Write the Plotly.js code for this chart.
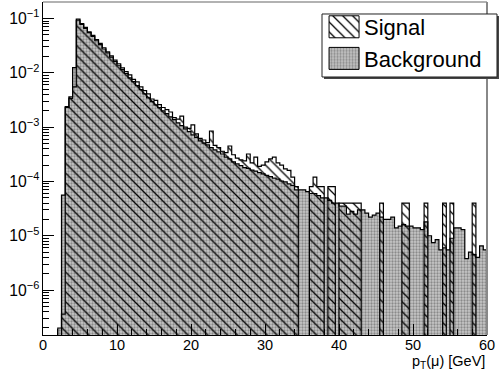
<!DOCTYPE html>
<html>
<head>
<meta charset="utf-8">
<script src="https://cdn.plot.ly/plotly-3.0.1.min.js"></script>
<style>html,body{margin:0;padding:0;background:#fff;}#chart{width:503px;height:378px;}</style>
</head>
<body>
<div id="chart"></div>
<script>
// Histogram binning (GeV)
const binStart = 0;
const binWidth = 0.5;

// Background histogram contents (normalised), one value per 0.5 GeV bin from 0 to 60 GeV
const background = [
  0, 0, 0, 0, 2e-7, 5.6e-5, 2.3e-3, 3.4e-3, 1.25e-2, 0.093,
  0.078, 0.066, 0.055, 0.047, 0.039, 0.033, 0.0275, 0.0234, 0.0195, 0.0162,
  0.0138, 0.0115, 0.0098, 0.0081, 0.0069, 0.0058, 0.0049, 0.0041, 0.00347, 0.00295,
  0.00257, 0.00229, 0.0020, 0.00178, 0.00155, 0.00138, 0.0012, 0.00107, 0.00093, 0.00083,
  0.00072, 0.00065, 0.00056, 0.00051, 0.00047, 0.00042, 0.00038, 0.00035, 0.00032, 0.00028,
  0.00026, 0.00023, 0.00021, 0.000195, 0.00018, 0.000174, 0.000162, 0.000155, 0.000145, 0.000138,
  0.000129, 0.000123, 0.000115, 0.00011, 0.000102, 9.8e-5, 9e-5, 8.5e-5, 7e-5, 7e-5,
  7e-5, 6.5e-5, 6e-5, 6e-5, 5.5e-5, 5e-5, 5e-5, 4.5e-5, 4e-5, 4e-5,
  3.5e-5, 3.5e-5, 2.5e-5, 2.8e-5, 2.5e-5, 3e-5, 3e-5, 2.6e-5, 2.2e-5, 2.4e-5,
  2.6e-5, 2.2e-5, 2.0e-5, 2.0e-5, 2.2e-5, 1.4e-5, 1.5e-5, 1.6e-5, 1.5e-5, 1.5e-5,
  1.4e-5, 1.4e-5, 1.3e-5, 1.8e-5, 1.0e-5, 7.5e-6, 8.5e-6, 5.5e-6, 6e-6, 5.5e-6,
  9e-6, 1.4e-5, 1.4e-5, 1.3e-5, 3.8e-6, 5e-6, 4.5e-6, 4e-6, 6.5e-6, 5.5e-6
];

// Signal histogram contents (normalised)
const signal = [
  0, 0, 0, 0, 0, 3.6e-7, 2.4e-3, 3.6e-3, 5.5e-3, 0.098,
  0.081, 0.069, 0.057, 0.049, 0.041, 0.035, 0.029, 0.0245, 0.0206, 0.0172,
  0.0147, 0.0124, 0.0106, 0.0092, 0.0076, 0.0068, 0.0055, 0.0047, 0.0041, 0.0033,
  0.0031, 0.0026, 0.0023, 0.0021, 0.0019, 0.0015, 0.0014, 0.0016, 0.0010, 0.00095,
  0.0011, 0.00075, 0.00062, 0.00058, 0.00052, 0.00085, 0.00046, 0.00042, 0.00036, 0.00034,
  0.00045, 0.00031, 0.00027, 0.00025, 0.00024, 0.00032, 0.00022, 0.00028, 0.00019, 0.0002,
  0.00023, 0.00026, 0.00028, 0.00022, 0.0002, 1.7e-4, 1.6e-4, 1.2e-4, 8e-5, 0,
  0, 0, 8e-5, 1.2e-4, 8e-5, 8e-5, 0, 8e-5, 8e-5, 0,
  4e-5, 4e-5, 4e-5, 4e-5, 4e-5, 4e-5, 0, 0, 0, 0,
  0, 4e-5, 0, 0, 0, 0, 0, 4e-5, 4e-5, 0,
  0, 0, 0, 4e-5, 0, 0, 0, 0, 4e-5, 0,
  4e-5, 0, 0, 0, 0, 0, 4e-5, 0, 0, 0
];

const xTickVals = [0, 10, 20, 30, 40, 50, 60];
const xTitle = 'p<sub>T</sub>(\u03bc) [GeV]';

// step outline: left bin edges plus final right edge
function stepX(vals) {
  const xs = vals.map((_, i) => binStart + i * binWidth);
  xs.push(binStart + vals.length * binWidth);
  return xs;
}
const FLOOR = 1e-12; // empty bins drop below the axis (clipped)
function stepY(vals) {
  const ys = vals.map(v => (v > 0 ? v : FLOOR));
  ys.push(ys[ys.length - 1]);
  return ys;
}

const font = 'Liberation Sans, Arial, Helvetica, sans-serif';

const traces = [
  {
    type: 'scatter', mode: 'lines', name: 'Background',
    x: stepX(background), y: stepY(background),
    line: {shape: 'hv', color: 'black', width: 1.2},
    fill: 'tozeroy', fillcolor: '#c2c2c2',
    fillpattern: {shape: '.', fgcolor: '#8a8a8a', bgcolor: '#c8c8c8', size: 3, solidity: 0.45},
    hoverinfo: 'skip'
  },
  {
    type: 'scatter', mode: 'lines', name: 'Signal',
    x: stepX(signal), y: stepY(signal),
    line: {shape: 'hv', color: 'black', width: 1.2},
    fill: 'tozeroy', fillcolor: 'rgba(0,0,0,0)',
    fillpattern: {shape: '\\', fgcolor: 'black', bgcolor: 'rgba(0,0,0,0)', size: 7, solidity: 0.18},
    hoverinfo: 'skip'
  }
];

const layout = {
  width: 503, height: 378,
  margin: {l: 43, r: 16, t: 2, b: 43, pad: 0},
  paper_bgcolor: 'white', plot_bgcolor: 'white',
  font: {family: font, color: 'black'},
  showlegend: true,
  legend: {
    x: 0.633, y: 0.988, xanchor: 'left', yanchor: 'top',
    bgcolor: 'rgba(0,0,0,0)', borderwidth: 0,
    font: {family: font, size: 22, color: 'black'},
    traceorder: 'reversed'
  },
  xaxis: {
    range: [0, 60], showgrid: false, zeroline: false,
    showline: true, linecolor: 'black', linewidth: 1.2,
    ticks: 'inside', ticklen: 11, tickcolor: 'black', tickwidth: 1,
    tickvals: xTickVals, ticktext: xTickVals.map(String),
    ticklabelstandoff: -4,
    tickfont: {family: font, size: 14.5, color: 'black'},
    minor: {dtick: 2, ticks: 'inside', ticklen: 6, tickcolor: 'black', tickwidth: 1, showgrid: false}
  },
  yaxis: {
    type: 'log', range: [-6.828, -0.695], showgrid: false, zeroline: false,
    showline: true, linecolor: 'black', linewidth: 1.2,
    ticks: 'inside', ticklen: 11, tickcolor: 'black', tickwidth: 1,
    dtick: 1, exponentformat: 'power',
    tickfont: {family: font, size: 12.6, color: 'black'},
    minor: {dtick: 'D1', ticks: 'inside', ticklen: 6, tickcolor: 'black', tickwidth: 1, showgrid: false}
  },
  shapes: [
    {type: 'line', xref: 'paper', yref: 'paper', x0: 0, x1: 1, y0: 1, y1: 1, line: {color: '#666', width: 1.2}, layer: 'above'},
    {type: 'line', xref: 'paper', yref: 'paper', x0: 1, x1: 1, y0: 0, y1: 1, line: {color: '#888', width: 2}, layer: 'above'},
    // legend box shadow and frame
    {type: 'rect', xref: 'paper', yref: 'paper', x0: 0.6329, x1: 1.0270, y0: 0.7688, y1: 0.9580,
     line: {width: 0}, fillcolor: '#444', layer: 'above'},
    {type: 'rect', xref: 'paper', yref: 'paper', x0: 0.6284, x1: 1.0225, y0: 0.7748, y1: 0.9640,
     line: {color: '#222', width: 1}, fillcolor: 'white', layer: 'above'}
  ],
  annotations: [
    {text: xTitle, xref: 'paper', yref: 'paper', x: 1, y: 0, xanchor: 'right', yanchor: 'top',
     yshift: -16, showarrow: false, font: {family: font, size: 14.5, color: 'black'}}
  ]
};

function enlargeSwatches(gd) {
  const box = 'M5,-11h30v22h-30z';
  gd.querySelectorAll('.legendfill path').forEach(p => p.setAttribute('d', box));
  gd.querySelectorAll('.legendlines path').forEach(p => {
    p.setAttribute('d', box);
    p.style.fill = 'none';
    p.style.strokeWidth = '1px';
  });
}

const gd = document.getElementById('chart');
Plotly.newPlot(gd, traces, layout, {staticPlot: true, displayModeBar: false}).then(() => {
  enlargeSwatches(gd);
  gd.on('plotly_afterplot', () => enlargeSwatches(gd));
});
</script>
</body>
</html>
